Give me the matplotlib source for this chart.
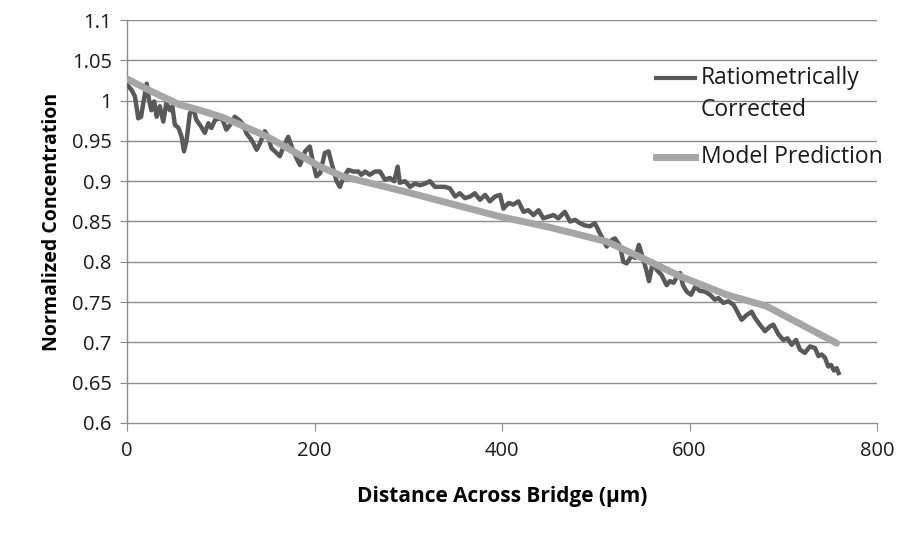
import matplotlib.pyplot as plt

plt.rcParams['font.family'] = ['Open Sans', 'DejaVu Sans']

# Measured profile (ratiometrically corrected)
dist_meas = [0.7, 5, 8.5, 12, 15, 17.4, 21, 23.5, 26, 29, 31.6, 35, 38.7, 42, 45.9, 48.4,
             51, 55, 58.3, 60.8, 63.6, 67, 70.8, 74, 78.9, 83, 86.8, 90, 94, 98.5, 102,
             106, 110, 115, 120.5, 124, 127.6, 133, 138.3, 141.8, 147, 150.7, 154, 159.6,
             163, 167.8, 172, 175.6, 181, 184.5, 190, 195, 198.7, 202, 206, 211, 215,
             218.3, 223.6, 227, 230.7, 236, 241.4, 246.7, 250, 254, 259, 264.5, 270, 275,
             280.5, 285, 288.7, 291, 296.5, 302, 307, 312.5, 318, 323, 328.5, 334, 339,
             344.5, 350, 355, 360.5, 366, 371, 376.5, 382, 387, 392.6, 398, 401.5, 407,
             412, 417.5, 423, 428, 433.5, 439, 444, 449.5, 455, 460, 467, 472.6, 478,
             483, 488.6, 494, 499, 504.5, 508, 511.6, 517, 520.5, 526, 529.4, 533, 538,
             542, 546, 549.7, 554.3, 556.8, 561, 565, 570, 575.6, 579, 583, 586, 590,
             593, 597, 601.6, 606, 611, 616.5, 622, 627, 630.8, 636, 641.4, 646.8, 650,
             655.6, 661, 666.3, 670, 675, 680.5, 686, 689.4, 694.8, 700, 704.4, 709,
             713.6, 717.8, 723, 728.5, 733.9, 737.5, 741, 744.5, 748, 751, 754, 757, 759]
conc_meas = [1.019, 1.013, 1.005, 0.978, 0.980, 0.997, 1.021, 1.001, 0.988, 0.999, 0.980,
             0.993, 0.974, 0.997, 0.988, 0.993, 0.970, 0.966, 0.955, 0.937, 0.951, 0.984,
             0.990, 0.976, 0.968, 0.960, 0.972, 0.966, 0.976, 0.978, 0.976, 0.964, 0.970,
             0.980, 0.975, 0.970, 0.959, 0.951, 0.939, 0.947, 0.962, 0.955, 0.941, 0.935,
             0.931, 0.945, 0.955, 0.943, 0.928, 0.920, 0.937, 0.943, 0.922, 0.906, 0.910,
             0.935, 0.937, 0.922, 0.900, 0.893, 0.904, 0.914, 0.912, 0.912, 0.908, 0.912,
             0.908, 0.912, 0.912, 0.902, 0.904, 0.900, 0.918, 0.898, 0.900, 0.893, 0.897,
             0.895, 0.897, 0.900, 0.893, 0.893, 0.893, 0.891, 0.881, 0.885, 0.879, 0.881,
             0.885, 0.877, 0.883, 0.875, 0.881, 0.883, 0.866, 0.873, 0.871, 0.875, 0.862,
             0.864, 0.858, 0.864, 0.854, 0.856, 0.858, 0.854, 0.862, 0.850, 0.852, 0.848,
             0.845, 0.844, 0.848, 0.835, 0.827, 0.819, 0.827, 0.829, 0.819, 0.800, 0.798,
             0.807, 0.805, 0.821, 0.807, 0.788, 0.776, 0.800, 0.790, 0.784, 0.771, 0.776,
             0.774, 0.780, 0.786, 0.771, 0.763, 0.759, 0.769, 0.764, 0.763, 0.759, 0.753,
             0.755, 0.749, 0.751, 0.747, 0.740, 0.728, 0.734, 0.738, 0.730, 0.722, 0.714,
             0.720, 0.722, 0.710, 0.703, 0.705, 0.697, 0.703, 0.691, 0.687, 0.695, 0.693,
             0.683, 0.685, 0.681, 0.670, 0.672, 0.665, 0.668, 0.662]

# Model prediction
dist_model = [0, 25, 56, 78, 100, 117, 150, 185, 206, 230, 300, 398, 450, 512, 558, 590,
              640, 682, 757]
conc_model = [1.027, 1.012, 0.995, 0.988, 0.980, 0.972, 0.955, 0.932, 0.918, 0.906, 0.886,
              0.856, 0.843, 0.825, 0.800, 0.782, 0.759, 0.745, 0.699]

x_ticks = [0, 200, 400, 600, 800]
y_ticks = [0.6, 0.65, 0.7, 0.75, 0.8, 0.85, 0.9, 0.95, 1.0, 1.05, 1.1]
y_labels = ['0.6', '0.65', '0.7', '0.75', '0.8', '0.85', '0.9', '0.95', '1', '1.05', '1.1']

fig = plt.figure(figsize=(9.02, 5.38), dpi=100)
ax = fig.add_axes([0.1408, 0.2138, 0.8315, 0.749])

grid_col = '#8c8c8c'
dark = '#595959'
light = '#a6a6a6'
txt = '#1a1a1a'

for yv in y_ticks[1:]:
    ax.axhline(yv, color=grid_col, lw=1.0, zorder=1)

ax.plot(dist_meas, conc_meas, color=dark, lw=3.2, zorder=3, solid_joinstyle='round')
ax.plot(dist_model, conc_model, color=light, lw=5, zorder=4, solid_capstyle='round')

ax.set_xlim(0, 800)
ax.set_ylim(0.6, 1.1)
ax.set_xticks(x_ticks)
ax.set_yticks(y_ticks)
ax.set_yticklabels(y_labels)

for side in ['top', 'right']:
    ax.spines[side].set_visible(False)
for side in ['left', 'bottom']:
    ax.spines[side].set_color(grid_col)
    ax.spines[side].set_linewidth(1.0)

ax.tick_params(axis='x', direction='out', length=6, color=grid_col, labelsize=14.5,
               labelcolor=txt, pad=7)
ax.tick_params(axis='y', direction='out', length=5, color=grid_col, labelsize=14.5,
               labelcolor=txt, pad=6)

ax.set_xlabel('Distance Across Bridge (µm)', fontsize=15, fontweight='bold', labelpad=18)
ax.set_ylabel('Normalized Concentration', fontsize=14, fontweight='bold', labelpad=7)

# legend drawn by hand so the handle sits beside the first line of text
ax.plot([0.705, 0.757], [0.856, 0.856], transform=ax.transAxes, color=dark, lw=3,
        clip_on=False)
ax.text(0.765, 0.856, 'Ratiometrically', transform=ax.transAxes, fontsize=16.5,
        va='center', ha='left', color=txt)
ax.text(0.765, 0.777, 'Corrected', transform=ax.transAxes, fontsize=16.5,
        va='center', ha='left', color=txt)
ax.plot([0.705, 0.757], [0.660, 0.660], transform=ax.transAxes, color=light, lw=5,
        clip_on=False)
ax.text(0.765, 0.660, 'Model Prediction', transform=ax.transAxes, fontsize=16.5,
        va='center', ha='left', color=txt)

fig.savefig('out.png', dpi=100)
